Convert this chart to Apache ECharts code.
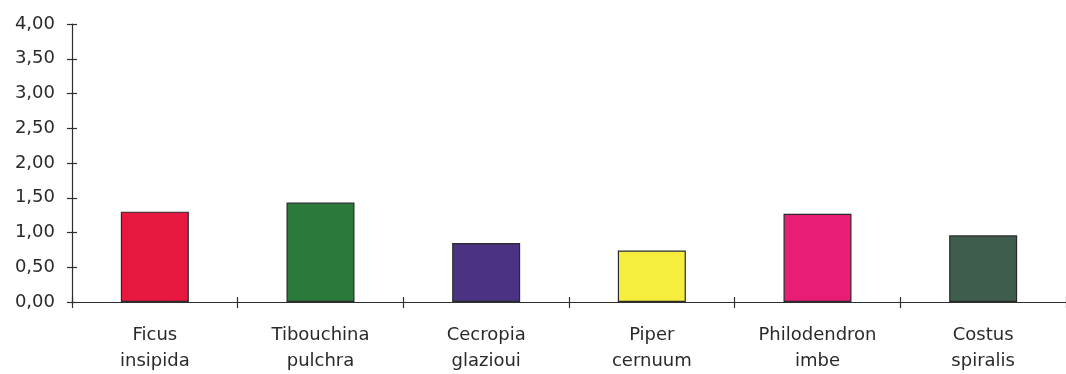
<!DOCTYPE html>
<html><head><meta charset="utf-8">
<script src="https://cdn.jsdelivr.net/npm/echarts@6/dist/echarts.min.js"></script>
<style>html,body{margin:0;padding:0;background:#fff}#c{width:1066px;height:374px}</style>
</head><body><div id="c"></div>
<script>
const categories = ["Ficus\ninsipida", "Tibouchina\npulchra", "Cecropia\nglazioui", "Piper\ncernuum", "Philodendron\nimbe", "Costus\nspiralis"];
const values = [1.30, 1.43, 0.85, 0.74, 1.27, 0.96];
const barColors = ["#e8173f", "#2b7a3b", "#4a3382", "#f6ee3c", "#e81d74", "#3e5d4c"];
const yTicks = [0, 0.5, 1, 1.5, 2, 2.5, 3, 3.5, 4];

const chart = echarts.init(document.getElementById('c'), null, {renderer: 'canvas'});
const axisColor = '#2e2e2e';
const gridBox = {left: 72, right: -8, top: 24, bottom: 72, containLabel: false};
chart.setOption({
  animation: false,
  backgroundColor: '#ffffff',
  grid: [Object.assign({}, gridBox), Object.assign({}, gridBox)],
  xAxis: [{
    type: 'category', data: categories, gridIndex: 0,
    axisLine: {show: true, lineStyle: {color: axisColor, width: 1.2}},
    axisTick: {show: false},
    axisLabel: {interval: 0, margin: 20, fontFamily: 'DejaVu Sans, sans-serif', fontSize: 18, color: '#2a2a2a', lineHeight: 26}
  }, {
    type: 'category', data: categories, gridIndex: 1, position: 'bottom', offset: -5,
    axisLine: {show: false, onZero: false},
    axisTick: {show: true, length: 11, interval: 0, alignWithLabel: false, lineStyle: {color: axisColor, width: 1.2}},
    axisLabel: {show: false}
  }],
  yAxis: [{
    type: 'value', min: 0, max: 4, interval: 0.5, gridIndex: 0,
    splitLine: {show: false},
    axisLine: {show: true, lineStyle: {color: axisColor, width: 1.2}},
    axisTick: {show: false},
    axisLabel: {margin: 17, fontFamily: 'DejaVu Sans, sans-serif', fontSize: 18, color: '#2a2a2a',
      formatter: v => yTicks.includes(v) ? v.toFixed(2).replace('.', ',') : ''}
  }, {
    type: 'value', min: 0, max: 4, interval: 0.5, gridIndex: 1, position: 'left', offset: -5,
    splitLine: {show: false},
    axisLine: {show: false, onZero: false},
    axisTick: {show: true, length: 10, lineStyle: {color: axisColor, width: 1.2}},
    axisLabel: {show: false}
  }],
  series: [{
    type: 'bar', xAxisIndex: 0, yAxisIndex: 0,
    data: values.map((v, i) => ({value: v, itemStyle: {color: barColors[i]}})),
    barWidth: 68,
    itemStyle: {borderColor: '#2a2a2a', borderWidth: 1.2}
  }, {
    type: 'bar', xAxisIndex: 1, yAxisIndex: 1, data: [], silent: true
  }]
});
</script></body></html>
